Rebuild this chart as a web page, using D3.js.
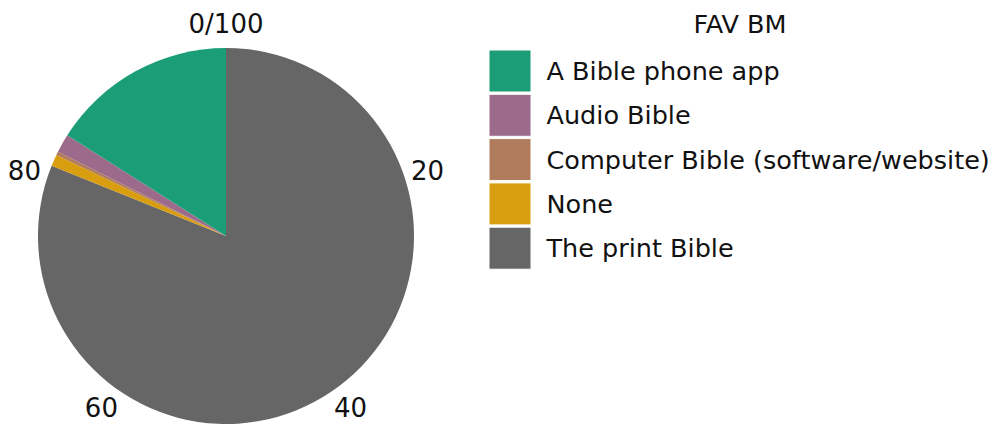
<!DOCTYPE html>
<html>
<head>
<meta charset="utf-8">
<script src="https://cdn.jsdelivr.net/npm/d3@7"></script>
<style>
  html, body { margin: 0; padding: 0; background: #fff; }
  svg { display: block; font-family: "DejaVu Sans", sans-serif; }
</style>
</head>
<body>
<svg id="chart" width="997" height="426"></svg>
<script>
const categories = ["A Bible phone app", "Audio Bible", "Computer Bible (software/website)", "None", "The print Bible"];
const values = [16.0, 1.6, 0.3, 1.0, 81.1];
const colors = ["#1b9e77", "#9c6b8c", "#b07c5c", "#d89e10", "#666666"];
const tickValues = [0, 20, 40, 60, 80];
const tickLabels = ["0/100", "20", "40", "60", "80"];
const legendTitle = "FAV BM";

const svg = d3.select("#chart");
const cx = 226, cy = 236, r = 188;
const g = svg.append("g").attr("transform", `translate(${cx},${cy})`);

const total = d3.sum(values);
const angle = d3.scaleLinear().domain([0, total]).range([0, 2 * Math.PI]);

// Stack in reverse order clockwise from the top (print Bible first)
const order = d3.range(categories.length).reverse();
let acc = 0;
const slices = order.map(i => {
  const s = { i, start: acc, end: acc + values[i] };
  acc += values[i];
  return s;
});

const arc = d3.arc().innerRadius(0).outerRadius(r);
g.selectAll("path.slice").data(slices).join("path")
  .attr("class", "slice")
  .attr("d", d => arc({ startAngle: angle(d.start), endAngle: angle(d.end) }))
  .attr("fill", d => colors[d.i]);

// angular tick labels
const tickScale = d3.scaleLinear().domain([0, 100]).range([0, 2 * Math.PI]);
const lr = 212;
g.selectAll("text.tick").data(tickValues).join("text")
  .attr("class", "tick")
  .attr("x", d => lr * Math.sin(tickScale(d)))
  .attr("y", d => -lr * Math.cos(tickScale(d)))
  .attr("text-anchor", "middle")
  .attr("dominant-baseline", "central")
  .attr("font-size", 26)
  .attr("fill", "#111")
  .text((d, i) => tickLabels[i]);

// legend
const lg = svg.append("g");
lg.append("text")
  .attr("x", 740).attr("y", 33)
  .attr("text-anchor", "middle")
  .attr("font-size", 25.5)
  .attr("fill", "#111")
  .text(legendTitle);

const rowY = d3.scaleLinear().domain([0, 1]).range([50, 94.3]);
const items = lg.selectAll("g.item").data(categories).join("g")
  .attr("class", "item")
  .attr("transform", (d, i) => `translate(489,${rowY(i)})`);
items.append("rect")
  .attr("width", 42).attr("height", 42)
  .attr("fill", (d, i) => colors[i])
  .attr("stroke", "#fff").attr("stroke-width", 1);
items.append("text")
  .attr("x", 57.5).attr("y", 30)
  .attr("font-size", 25.5)
  .attr("fill", "#111")
  .text(d => d);
</script>
</body>
</html>
